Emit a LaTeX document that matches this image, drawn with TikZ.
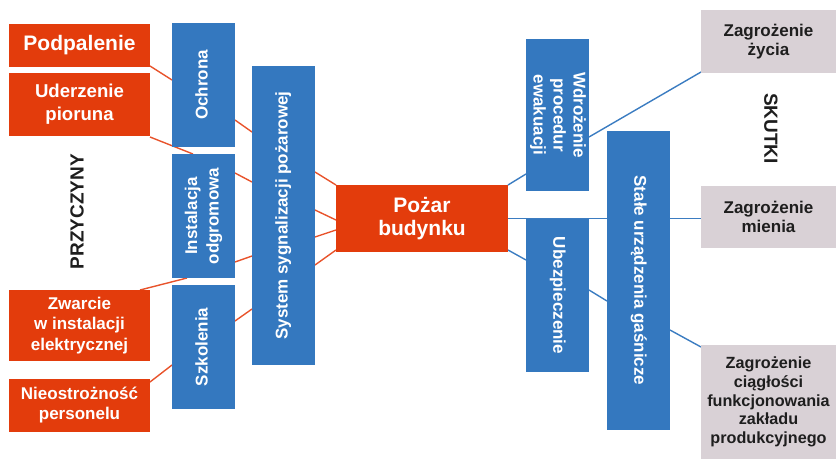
\documentclass[tikz,border=0pt]{standalone}
\usepackage{fontspec}
\setmainfont{Liberation Sans}
\usetikzlibrary{calc,backgrounds}

\definecolor{causered}{HTML}{E33C0C}
\definecolor{barblue}{HTML}{3478BF}
\definecolor{effectgrey}{HTML}{D9D1D6}
\definecolor{redlink}{HTML}{E8532B}
\definecolor{bluelink}{HTML}{3B7CC1}
\definecolor{darktext}{HTML}{1E1E1E}

% vertical text block: angle, lines separated by \\
\newcommand{\rottext}[2]{\rotatebox{#1}{\begin{tabular}{@{}c@{}}#2\end{tabular}}}
\newcommand{\fs}[2]{\fontsize{#1}{#2}\selectfont}

\tikzset{
  box/.style={rectangle, inner sep=0pt, outer sep=0pt, align=center, font=\bfseries\fs{17}{20.5}},
  causebox/.style={box, fill=causered, text=white, minimum width=141pt},
  barbox/.style={box, fill=barblue, text=white, minimum width=63pt},
  effectbox/.style={box, fill=effectgrey, text=darktext, minimum width=135pt},
  sidelabel/.style={inner sep=0pt, font=\bfseries\fs{19}{22}, text=darktext},
  redline/.style={draw=redlink, line width=1.4pt},
  blueline/.style={draw=bluelink, line width=1.4pt},
}

\begin{document}
\begin{tikzpicture}[x=1pt, y=-1pt]
\useasboundingbox (0,0) rectangle (836,459);

% causes
\node[causebox, minimum height=43pt, font=\bfseries\fs{21}{24}] (pod) at (79.5,45.5) {Podpalenie};
\node[causebox, minimum height=63pt, font=\bfseries\fs{18.6}{23}] (ude) at (79.5,104.5) {Uderzenie\\pioruna};
\node[causebox, minimum height=71pt] (zwa) at (79.5,325.5) {Zwarcie\\w instalacji\\elektrycznej};
\node[causebox, minimum height=53pt, font=\bfseries\fs{17}{20}] (nie) at (79.5,405.5) {Nieostrożność\\personelu};

% preventive measures
\node[barbox, minimum height=124pt] (och) at (203.5,85) {\rottext{90}{Ochrona}};
\node[barbox, minimum height=124pt, font=\bfseries\fs{17}{21.5}] (ins) at (203.5,216) {\rottext{90}{Instalacja\\odgromowa}};
\node[barbox, minimum height=124pt] (szk) at (203.5,347) {\rottext{90}{Szkolenia}};
\node[barbox, minimum height=299pt] (sys) at (283.5,215.5) {\rottext{90}{System sygnalizacji pożarowej}};

% central event
\node[box, fill=causered, text=white, minimum width=172pt, minimum height=67pt, font=\bfseries\fs{21}{22.7}] (poz) at (422,218.5) {Pożar\\budynku};

% mitigating measures
\node[barbox, minimum height=152pt, font=\bfseries\fs{17}{20}] (wdr) at (557.5,115) {\rottext{-90}{Wdrożenie\\procedur\\ewakuacji}};
\node[barbox, minimum height=153pt] (ube) at (557.5,295.5) {\rottext{-90}{Ubezpieczenie}};
\node[barbox, minimum height=299pt] (sta) at (638.5,280.5) {\rottext{-90}{Stałe urządzenia gaśnicze}};

% effects
\node[effectbox, minimum height=63pt, font=\bfseries\fs{17}{19.5}] (zy) at (768.5,41.5) {Zagrożenie\\życia};
\node[effectbox, minimum height=62pt, font=\bfseries\fs{17}{19.5}] (mie) at (768.5,217) {Zagrożenie\\mienia};
\node[effectbox, minimum height=114pt, font=\bfseries\fs{16.2}{18.7}] (cia) at (768.5,402) {Zagrożenie\\ciągłości\\funkcjonowania\\zakładu\\produkcyjnego};

% group headings
\node[sidelabel, rotate=90] (przy) at (77,211.5) {PRZYCZYNY};
\node[sidelabel, rotate=-90] (skut) at (771,128.5) {SKUTKI};

\begin{scope}[on background layer]
  % causes -> measures -> fire
  \draw[redline] ($(pod.south east)+(0,-1)$) -- ($(och.north west)+(0,57)$);
  \draw[redline] ($(och.north east)+(0,97)$) -- ($(sys.north west)+(0,66)$);
  \draw[redline] ($(ude.south east)+(0,1)$) -- ($(ins.north west)+(21,0)$);
  \draw[redline] ($(ins.north east)+(0,19)$) -- ($(sys.north west)+(0,116)$);
  \draw[redline] ($(zwa.north east)+(-10,0)$) -- ($(ins.south west)+(15,0)$);
  \draw[redline] ($(ins.north east)+(0,108)$) -- ($(sys.north west)+(0,190)$);
  \draw[redline] ($(nie.north east)+(0,3)$) -- ($(szk.north west)+(0,80)$);
  \draw[redline] ($(szk.north east)+(0,36)$) -- ($(sys.north west)+(0,243)$);
  \draw[redline] ($(sys.north east)+(0,106)$) -- (poz.north west);
  \draw[redline] ($(sys.north east)+(0,144)$) -- ($(poz.north west)+(0,35)$);
  \draw[redline] ($(sys.north east)+(0,171)$) -- ($(poz.north west)+(0,45)$);
  \draw[redline] ($(sys.north east)+(0,199)$) -- ($(poz.north west)+(0,65)$);
  % fire -> measures -> effects
  \draw[blueline] (poz.north east) -- ($(wdr.south west)+(0,-17)$);
  \draw[blueline] ($(wdr.north east)+(0,98)$) -- ($(zy.south west)+(0,-1)$);
  \draw[blueline] (poz.east) -- (poz.east -| mie.west);
  \draw[blueline] ($(poz.south east)+(0,-2)$) -- ($(ube.north west)+(0,41)$);
  \draw[blueline] ($(ube.north east)+(0,71)$) -- ($(sta.north west)+(0,170)$);
  \draw[blueline] ($(sta.north east)+(0,199)$) -- ($(cia.north west)+(0,2)$);
\end{scope}
\end{tikzpicture}
\end{document}
